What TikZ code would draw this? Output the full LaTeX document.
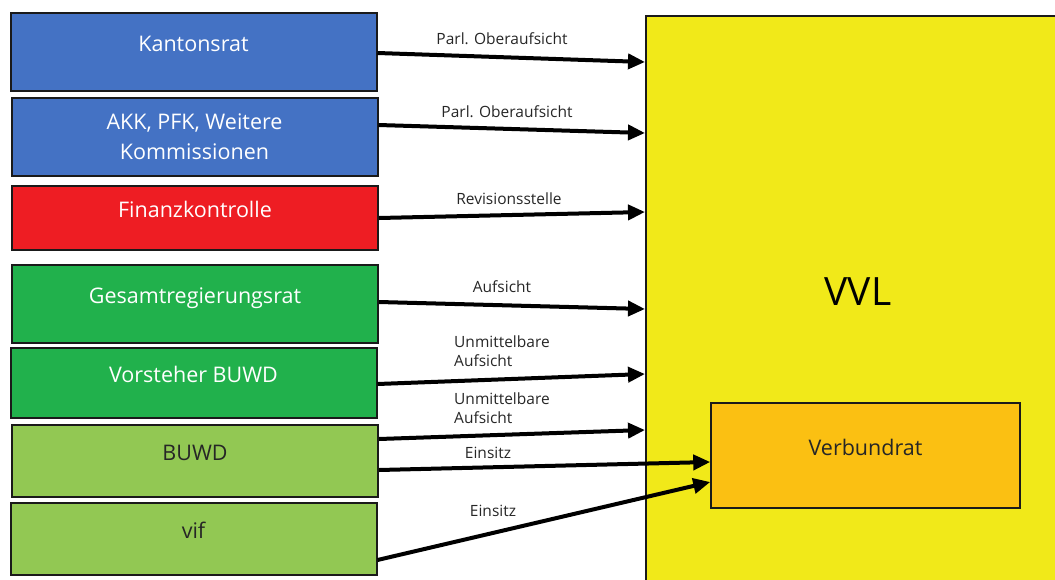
\documentclass[tikz,border=0pt]{standalone}
\usepackage{fontspec}
\setmainfont{Open Sans}
\usetikzlibrary{arrows.meta}
\definecolor{cblue}{HTML}{4472C4}
\definecolor{cred}{HTML}{EE1D23}
\definecolor{cgreen}{HTML}{21B14C}
\definecolor{clgreen}{HTML}{92C853}
\definecolor{cyellow}{HTML}{F1E919}
\definecolor{corange}{HTML}{FBC012}
\definecolor{cedge}{HTML}{1A1A1A}
\definecolor{ctext}{HTML}{262626}
\tikzset{
  box/.style={draw=cedge, line width=2pt, minimum width=366pt, inner sep=0pt,
    font=\fontsize{21.5}{30}\selectfont, align=center},
  raised/.style={text height=15pt, text depth=17pt},
  lbl/.style={font=\fontsize{15.5}{19}\selectfont, inner sep=0pt, text=ctext},
  arr/.style={line width=4pt, -{Triangle[length=17pt,width=15pt]}},
}
\begin{document}
\begin{tikzpicture}[x=1pt,y=-1pt]
\useasboundingbox (0,0) rectangle (1055,579);
\clip (0,0) rectangle (1055,579);
% big VVL box
\node[draw=cedge, line width=1.5pt, fill=cyellow, anchor=north west, minimum width=430pt, minimum height=580pt, inner sep=0pt] (vvl) at (645,15) {};
\node[font=\fontsize{39}{40}\selectfont, inner sep=0pt] (vvltext) at (858,292) {VVL};
\node[draw=cedge, line width=1.5pt, fill=corange, minimum width=309pt, minimum height=105pt, font=\fontsize{21.5}{24}\selectfont, text=ctext, text height=15pt, text depth=15pt, inner sep=0pt] (vr) at (865.5,455.5) {Verbundrat};
% left boxes
\node[box, raised, fill=cblue, text=white, minimum height=78pt] (kr) at (193.5,52) {Kantonsrat};
\node[box, fill=cblue, text=white, minimum height=78pt] (akk) at (194.5,137) {AKK, PFK, Weitere\\Kommissionen};
\node[box, raised, fill=cred, text=white, minimum height=64pt] (fk) at (195,218) {Finanzkontrolle};
\node[box, raised, fill=cgreen, text=white, minimum height=78pt] (grr) at (195,304) {Gesamtregierungsrat};
\node[box, raised, fill=cgreen, text=white, minimum height=70pt] (vb) at (193.5,383) {Vorsteher BUWD};
\node[box, raised, fill=clgreen, text=ctext, minimum height=72pt] (buwd) at (195,461) {BUWD};
\node[box, raised, fill=clgreen, text=ctext, minimum height=72pt] (vif) at (193.5,539) {vif};
% arrows
\draw[arr] (kr.east |- 0,53) -- (vvl.west |- 0,62);
\draw[arr] (akk.east |- 0,125) -- (vvl.west |- 0,133);
\draw[arr] (fk.east |- 0,218) -- (vvl.west |- 0,212);
\draw[arr] (grr.east |- 0,302) -- (vvl.west |- 0,309);
\draw[arr] (vb.east |- 0,384) -- (vvl.west |- 0,374);
\draw[arr] (buwd.east |- 0,439) -- (vvl.west |- 0,430);
\draw[arr] (buwd.east |- 0,470) -- (vr.west |- 0,462);
\draw[arr] (vif.east |- 0,560) -- (vr.west |- 0,482);
% labels
\node[lbl] (l1) at (502,39) {Parl. Oberaufsicht};
\node[lbl] (l2) at (507,112) {Parl. Oberaufsicht};
\node[lbl] (l3) at (509,199) {Revisionsstelle};
\node[lbl] (l4) at (502,287) {Aufsicht};
\node[lbl, align=left, anchor=west] (l5) at (454,351) {Unmittelbare\\Aufsicht};
\node[lbl, align=left, anchor=west] (l6) at (454,408) {Unmittelbare\\Aufsicht};
\node[lbl] (l7) at (488,453) {Einsitz};
\node[lbl] (l8) at (493,511) {Einsitz};
\end{tikzpicture}
\end{document}
